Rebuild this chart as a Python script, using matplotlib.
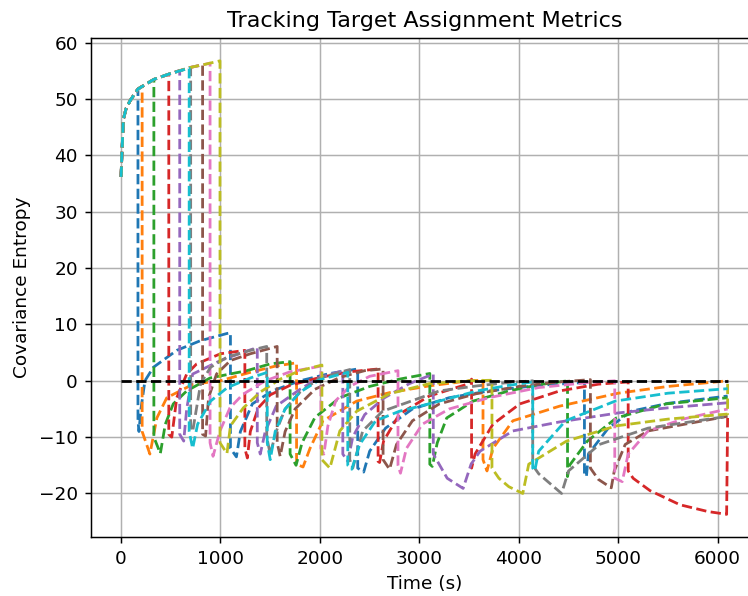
import matplotlib
matplotlib.use("Agg")
import matplotlib.pyplot as plt

# values (time in s, covariance entropy)
blue_t = [0, 10, 23, 50, 90, 170, 170, 180, 200, 240, 325, 560, 795, 1065, 1100,
          1100, 1160, 1200, 1320, 1520, 1800, 2100, 2380,
          2380, 2440, 2500, 2660, 2930, 3300, 3700, 4200, 4660,
          4660, 4680, 4700, 4900, 5130, 5500, 6100]
blue_y = [36.2, 41, 46.4, 48.3, 49.7, 51.8, -7, -9, -5, 0, 2.4, 5.4, 7.1, 8.4, 8.5,
          -12, -13.5, -9, -4.1, -1.8, 0, 1.3, 2.1,
          -15.5, -16.2, -12.5, -8.4, -5, -3, -1.8, -0.8, -0.3,
          -16.5, -17, -13, -8.4, -5.4, -4, -2.7]

orange_t = [0, 10, 23, 50, 90, 170, 212, 212, 290, 360, 460, 725, 995, 1300, 1550, 1765,
            1765, 1830, 1900, 2030, 2370, 2700, 3100, 3500, 3640,
            3640, 3680, 3740, 3940, 4410, 5000, 5500, 6100]
orange_y = [36.2, 41, 46.4, 48.3, 49.7, 51.8, 52.3, -9, -13, -6.6, -3, -0.6, 0, 1.5, 2.6, 3.2,
            -14.8, -15.3, -12, -7.1, -3.6, -2.1, -0.9, 0, 0.1,
            -14, -16, -12, -7.1, -4.5, -2.2, -1, 0]

green_t = [0, 10, 23, 50, 90, 170, 330, 330, 395, 445, 525, 660, 895, 1265, 1500, 1700,
           1700, 1760, 1820, 1950, 2200, 2500, 2800, 3105,
           3105, 3130, 3180, 3275, 3540, 3900, 4200, 4490,
           4490, 4510, 4690, 4980, 5480, 6100]
green_y = [36.2, 41, 46.4, 48.3, 49.7, 51.8, 53.5, -10, -12.9, -7.7, -4.1, -1.8, 0.5, 1.8, 3, 3.4,
           -13, -15, -11, -6.5, -3, -1, 0.3, 1.3,
           -14.8, -15.2, -11, -6.6, -3.6, -1.8, -0.7, 0,
           -17, -15, -10.7, -6.6, -4.1, -3.0]

red_t = [0, 10, 23, 50, 90, 170, 330, 480, 480, 510, 560, 660, 760, 1000, 1245,
         1245, 1270, 1300, 1380, 1500, 1700, 2000, 2300, 2585,
         2585, 2600, 2640, 2800, 3100, 3500, 3525,
         3525, 3560, 3740, 4010, 4410, 4800, 5100,
         5100, 5150, 5320, 5620, 5900, 6090, 6100]
red_y = [36.2, 41, 46.4, 48.3, 49.7, 51.8, 53.5, 54.4, -9.5, -10, -3, 1.2, 3, 4.8, 5.4,
         -12, -13.7, -9, -4.8, -2.5, -0.8, 0.6, 1.6, 2.1,
         -14.3, -14.5, -10.7, -5.9, -2.7, -0.5, 0.3,
         -15.5, -13, -7.7, -4.1, -1.8, -0.6, -0.2,
         -16, -17.3, -19.5, -22, -23.2, -23.7, -6.6]

purple_t = [0, 10, 23, 50, 90, 170, 330, 490, 590, 590, 630, 660, 720, 1000, 1250, 1370,
            1370, 1400, 1450, 1560, 1800, 2000, 2230,
            2230, 2280, 2330, 2450, 2650, 2900, 3140,
            3140, 3280, 3440, 3520, 3610, 3940, 4410, 5000, 5500, 6100]
purple_y = [36.2, 41, 46.4, 48.3, 49.7, 51.8, 53.5, 54.5, 55.1, -9.5, -10.7, -5, 1.2, 3.6, 5.2, 5.9,
            -11, -13, -9, -4.5, -1.5, 0.6, 1.8,
            -13, -14.3, -10, -6, -3, -0.5, 1.2,
            -13, -17.3, -19.1, -14.8, -12.5, -8.9, -7.3, -5.7, -4.8, -3.9]

brown_t = [0, 10, 23, 50, 90, 170, 330, 490, 690, 820, 820, 850, 880, 960, 1100, 1300, 1570,
           1570, 1600, 1650, 1750, 1950, 2200, 2450, 2635,
           2635, 2700, 2770, 2930, 3200, 3570, 4000, 4400, 4720,
           4720, 4800, 4930, 4960, 5070, 5300, 6100]
brown_y = [36.2, 41, 46.4, 48.3, 49.7, 51.8, 53.5, 54.5, 55.6, 56.1, -9.5, -9.8, -3, 1.2, 3.6, 4.8, 6.1,
           -11, -13.4, -9, -5, -1.5, 0.6, 1.8, 2.1,
           -14, -15.7, -11.3, -7.1, -4.1, -2.3, -1, -0.2, 0.2,
           -15.5, -17.5, -19, -16, -11.3, -8.9, -6.3]

pink_t = [0, 10, 23, 50, 90, 170, 330, 490, 690, 850, 895, 895, 925, 995, 1095, 1225, 1450, 1700, 2010,
          2010, 2040, 2080, 2160, 2300, 2500, 2785,
          2785, 2810, 2870, 3030, 3300, 3700, 4200, 4700, 4965,
          4965, 5040, 5100, 5300, 5650, 6100]
pink_y = [36.2, 41, 46.4, 48.3, 49.7, 51.8, 53.5, 54.5, 55.6, 56.2, 56.4, -11, -13.4, -8.9, -4.8, -2.4, 0, 1.6, 2.6,
          -12, -13, -8, -3.5, -1, 0.8, 1.8,
          -15, -16.4, -12, -7.7, -5, -3, -1.2, -0.3, 0,
          -17.3, -17.9, -13, -8.9, -6.8, -5]

gray_t = [0, 10, 23, 50, 90, 170, 330, 490, 700, 700, 720, 800, 900, 1065, 1300, 1465,
          1465, 1500, 1560, 1650, 1800, 2000, 2300,
          2300, 2330, 2430, 2630, 2870, 3200, 3580, 3900, 4140,
          4140, 4200, 4430, 4500, 4810, 5300, 6100]
gray_y = [36.2, 41, 46.4, 48.3, 49.7, 51.8, 53.5, 54.5, 55.6, -8, -9, -0.5, 2.4, 4.2, 5.4, 6.1,
          -10, -13, -9, -5, -2, 0.5, 2,
          -14, -15.5, -8.9, -5.4, -3.9, -1.8, -0.9, -0.3, 0,
          -15, -16.5, -20, -16, -11.3, -8.4, -6.3]

olive_t = [0, 10, 23, 50, 90, 170, 330, 490, 690, 850, 995, 995, 1065, 1100, 1230, 1400, 1600, 1800, 2020,
           2020, 2100, 2200, 2370, 2700, 3100, 3500, 3730,
           3730, 3800, 3900, 4040, 4100, 4480, 4980, 5500, 6100, 6100]
olive_y = [36.2, 41, 46.4, 48.3, 49.7, 51.8, 53.5, 54.5, 55.6, 56.2, 56.8, -11, -12.9, -8, -4.8, -2, 0.3, 1.8, 2.8,
           -14, -15.5, -8.9, -5.4, -2.3, -0.5, 0, 0.1,
           -15.5, -17.3, -18.8, -20, -14.8, -10.7, -8, -6.8, -5.9, 0]

cyan_t = [0, 10, 23, 50, 90, 170, 330, 490, 685, 685, 720, 770, 900, 1070, 1300, 1470,
          1470, 1500, 1550, 1650, 1800, 2000, 2280,
          2280, 2320, 2400, 2560, 2800, 3005, 3200, 3580, 3900, 4140,
          4140, 4160, 4200, 4470, 4970, 5500, 6100]
cyan_y = [36.2, 41, 46.4, 48.3, 49.7, 51.8, 53.5, 54.5, 55.5, -9, -12, -7.7, -3.6, -1.2, 0.5, 1.5,
          -11, -14, -9, -5, -2, 0.2, 1.5,
          -15, -15.7, -11.3, -7.1, -5.4, -4.5, -3.6, -1.8, -0.8, -0.2,
          -15.5, -16, -12.5, -7.1, -3.6, -2.2, -1.4]

zero_t = [0, 6100]
zero_y = [0, 0]

tracks = [
    (blue_t, blue_y), (orange_t, orange_y), (green_t, green_y), (red_t, red_y),
    (purple_t, purple_y), (brown_t, brown_y), (pink_t, pink_y), (gray_t, gray_y),
    (olive_t, olive_y), (cyan_t, cyan_y),
]

dpi = 133.33
fig = plt.figure(figsize=(748 / dpi, 596 / dpi), dpi=dpi)
ax = fig.add_axes([0.1213, 0.099, 0.892, 0.837])

for t, y in tracks:
    ax.plot(t, y, linestyle='--')
ax.plot(zero_t, zero_y, 'k--')

ax.set_title('Tracking Target Assignment Metrics')
ax.set_xlabel('Time (s)')
ax.set_ylabel('Covariance Entropy')
ax.grid(True)

fig.savefig('out.png', dpi=dpi)
